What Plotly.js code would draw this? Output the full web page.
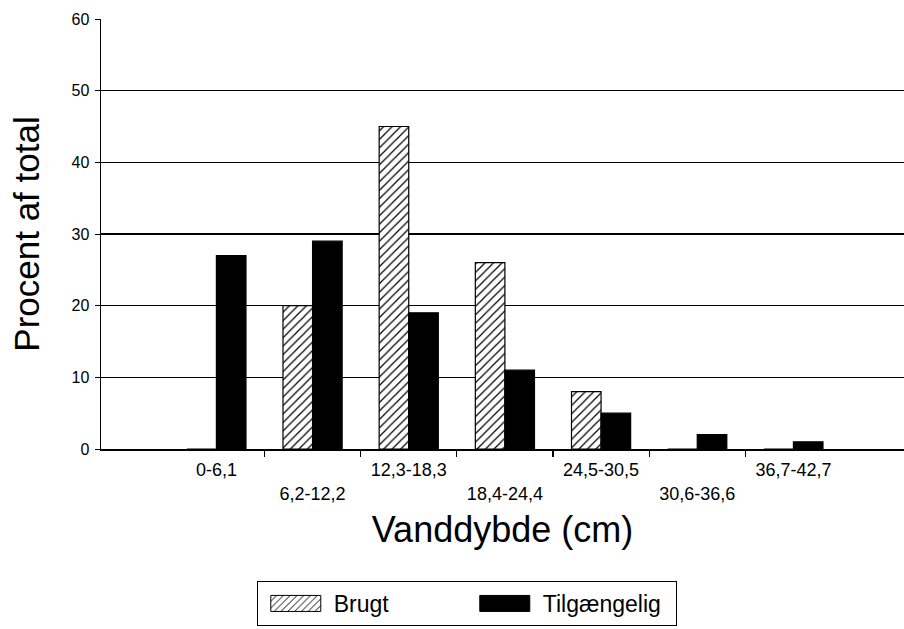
<!DOCTYPE html>
<html>
<head>
<meta charset="utf-8">
<script src="https://cdn.plot.ly/plotly-3.0.1.min.js"></script>
<style>html,body{margin:0;padding:0;background:#fff;}#chart{width:904px;height:629px;}</style>
</head>
<body>
<div id="chart"></div>
<script>
const categories = ["0-6,1", "6,2-12,2", "12,3-18,3", "18,4-24,4", "24,5-30,5", "30,6-36,6", "36,7-42,7"];
const brugt = [0, 20, 45, 26, 8, 0, 0];
const tilgaengelig = [27, 29, 19, 11, 5, 2, 1];
const seriesNames = ["Brugt", "Tilgængelig"];
const yTicks = [0, 10, 20, 30, 40, 50, 60];

const idx = categories.map((c, i) => i);
const FONT = "Arial, 'Liberation Sans', Helvetica, sans-serif";

const traces = [
  {
    type: "bar", name: seriesNames[0], x: idx, y: brugt,
    marker: {
      color: "#ffffff",
      line: {color: "#000", width: 1.2},
      pattern: {shape: "/", fgcolor: "#000", bgcolor: "#fff", size: 6, solidity: 0.2}
    }
  },
  {
    type: "bar", name: seriesNames[1], x: idx, y: tilgaengelig,
    marker: {color: "#000", line: {color: "#000", width: 1.2}}
  }
];

const layout = {
  width: 904, height: 629,
  margin: {l: 101, r: 0, t: 19, b: 180},
  paper_bgcolor: "#fff", plot_bgcolor: "#fff",
  font: {family: FONT, color: "#000"},
  barmode: "group", bargap: 0.385, bargroupgap: 0,
  showlegend: true,
  legend: {
    orientation: "h", x: 0.194, xanchor: "left", y: -0.307, yanchor: "top",
    bordercolor: "#000", borderwidth: 1, bgcolor: "#fff",
    font: {family: FONT, size: 23, color: "#000"},
    entrywidth: 128, entrywidthmode: "pixels", itemwidth: 66
  },
  xaxis: {
    type: "linear", range: [-1.2, 7.15],
    showgrid: false, zeroline: false,
    showline: true, linecolor: "#000", linewidth: 1.5,
    tickmode: "array", tickvals: idx,
    ticktext: categories.map((c, i) => (i % 2 ? "<br>" + c : c)),
    ticks: "", ticklabelstandoff: 4,
    tickfont: {family: FONT, size: 18, color: "#000"},
    minor: {tickmode: "array", tickvals: idx.slice(0, -1).map(i => i + 0.5), ticks: "outside", ticklen: 6, tickcolor: "#000", tickwidth: 1.2, showgrid: false},
    title: {text: "Vanddybde (cm)", font: {family: FONT, size: 36, color: "#000"}, standoff: 14},
    automargin: false
  },
  yaxis: {
    range: [0, 60], tickmode: "array", tickvals: yTicks,
    showgrid: true, gridcolor: "#000", gridwidth: 1.3,
    zeroline: false, showline: true, linecolor: "#000", linewidth: 1.5,
    ticks: "outside", ticklen: 5, tickcolor: "#000", ticklabelstandoff: 2,
    tickfont: {family: FONT, size: 16, color: "#000"},
    title: {text: "Procent af total", font: {family: FONT, size: 35, color: "#000"}, standoff: 21},
    automargin: false
  }
};

Plotly.newPlot("chart", traces, layout, {displayModeBar: false, staticPlot: true}).then(function (gd) {
  // widen legend keys to the wide rectangles of the reference, placed just left of each label
  gd.querySelectorAll(".legend .traces").forEach(function (g) {
    const txt = g.querySelector("text.legendtext");
    const p = g.querySelector(".legendpoints path");
    if (!txt || !p) return;
    const tr = txt.getBoundingClientRect();
    const m = p.getScreenCTM();
    const right = (tr.left - 13 - m.e) / m.a;
    const left = right - 50;
    const cy = ((tr.top + tr.bottom) / 2 - 1 - m.f) / m.d;
    const top = cy - 8, bot = cy + 8;
    p.setAttribute("d", "M" + left + "," + top + "H" + right + "V" + bot + "H" + left + "Z");
    p.style.strokeWidth = "1px";
    p.style.stroke = "#000";
  });
});
</script>
</body>
</html>
